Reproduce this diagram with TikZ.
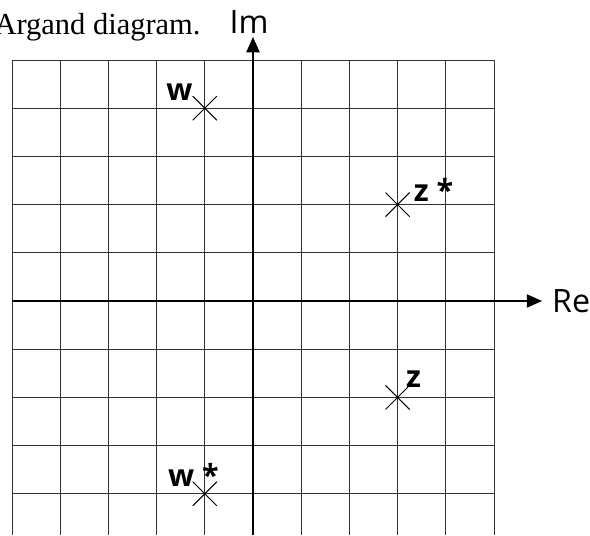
\documentclass[tikz,border=0pt]{standalone}
\usepackage{fontspec}
\setmainfont{Liberation Serif}
\newfontfamily\handfont{Open Sans}
\usetikzlibrary{shapes.misc,positioning,arrows.meta}
\tikzset{hand/.style = {font=\handfont\fontsize{19}{21}\selectfont, inner sep=0pt},
  ptlabel/.style = {hand, font=\handfont\bfseries\fontsize{18}{20}\selectfont},
  pt/.style = {cross out, draw, line width=.6pt, minimum size=.48cm, inner sep=0pt},
  axis/.style = {line width=1.3pt, -{Triangle[length=.32cm, width=.27cm]}}}
\begin{document}
\begin{tikzpicture}
      \useasboundingbox (-5.249,-4.855) rectangle (6.992,6.245);
      \draw[line width=.5pt, black!80] (-5,-4.855) grid (5,5);
      \coordinate (re0) at (-5,0);
      \coordinate (re1) at (6,0);
      \coordinate (im0) at (0,-4.855);
      \coordinate (im1) at (0,5.48);
      \draw[axis] (re0) -- (re1);
      \draw[axis] (im0) -- (im1);
      \node[hand, anchor=base] (im) at (-.08,5.56) {Im};
      \node[hand, right=.2cm of re1] (re) {Re};
      % the four points
      \node[pt] (w) at (-1,4) {};
      \node[pt] (zs) at (3,2) {};
      \node[pt] (z) at (3,-2) {};
      \node[pt] (ws) at (-1,-4) {};
      \node[ptlabel, anchor=base east] (wl) at ([shift={(-.25,.17)}]w.center) {w};
      \node[ptlabel, anchor=base west] (zsl) at ([shift={(.33,.06)}]zs.center) {z *};
      \node[ptlabel, anchor=base west] (zl) at ([shift={(.17,.21)}]z.center) {z};
      \node[ptlabel, anchor=base west] (wsl) at ([shift={(-.77,.15)}]ws.center) {w *};
      \node[font=\fontsize{18}{20}\selectfont, anchor=base east, inner sep=0pt] (title) at (-1.08,5.52) {Argand diagram.};
    \end{tikzpicture}
\end{document}
